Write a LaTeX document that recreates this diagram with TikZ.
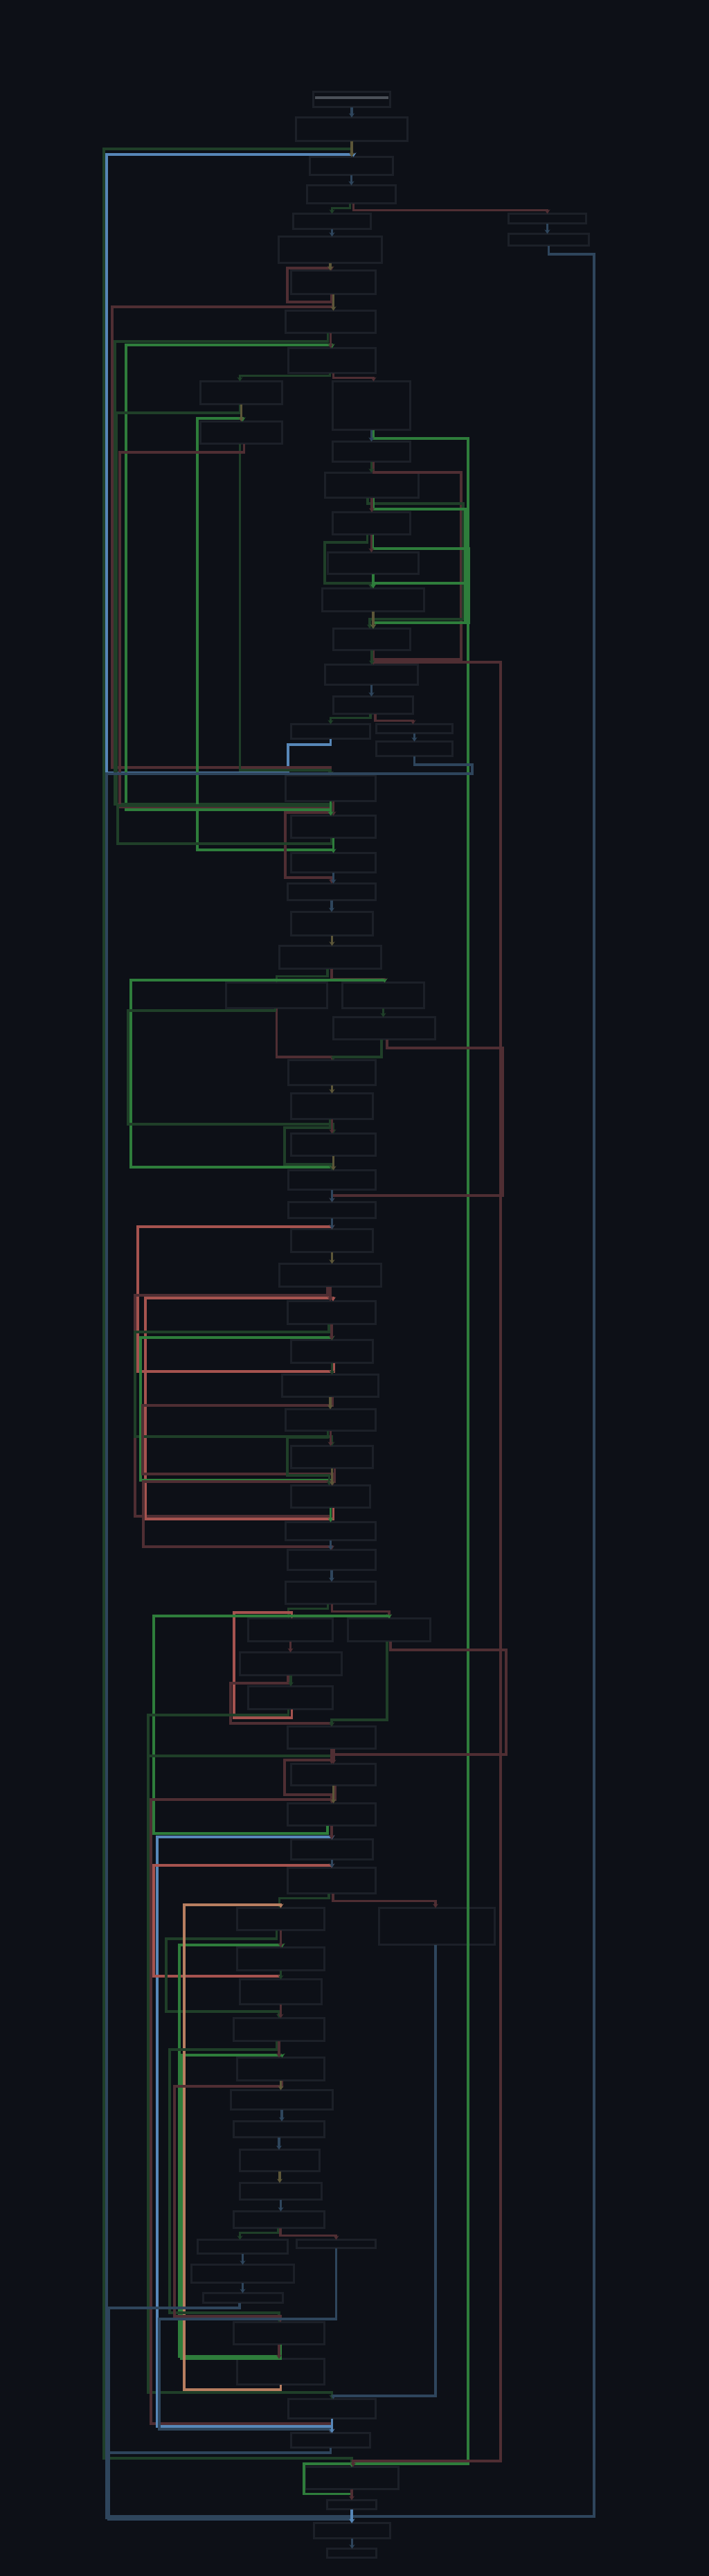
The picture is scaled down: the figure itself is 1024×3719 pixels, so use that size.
\documentclass[tikz,border=0pt]{standalone}
\usepackage{tikz}
\usetikzlibrary{arrows.meta,calc}
\definecolor{figBg}{HTML}{0D1017}
\definecolor{figBox}{HTML}{1C2028}
\definecolor{figBar}{HTML}{4B5058}
\definecolor{lnDBlue}{HTML}{2E455C}
\definecolor{lnBBlue}{HTML}{5787B8}
\definecolor{lnDGreen}{HTML}{1F3F28}
\definecolor{lnBGreen}{HTML}{2E7D3B}
\definecolor{lnDRed}{HTML}{4F2E33}
\definecolor{lnBRed}{HTML}{A5534F}
\definecolor{lnOrange}{HTML}{B77E60}
\definecolor{lnOlive}{HTML}{5C5638}

\begin{document}
\begin{tikzpicture}[
  x=0.1mm,y=-0.1mm,
  box/.style={draw=figBox,fill=figBg,line width=0.35mm,inner sep=0pt,outer sep=0pt},
  ln/.style={line width=0.35mm,-{Stealth[length=0.6mm,width=0.8mm]}},
  cDB/.style={ln,lnDBlue},
  cBB/.style={ln,lnBBlue},
  cDG/.style={ln,lnDGreen},
  cBG/.style={ln,lnBGreen},
  cDR/.style={ln,lnDRed},
  cBR/.style={ln,lnBRed},
  cOR/.style={ln,lnOrange},
  cOL/.style={ln,lnOlive}
]
\fill[figBg] (0,0) rectangle (1024,3719);

% ---- top part ----
\node[box,minimum width=11.1mm,minimum height=2.2mm] (a)   at (508,143.5)   {};
\fill[figBar] (455,139) rectangle (561,143);
\node[box,minimum width=16.1mm,minimum height=3.4mm] (b)   at (508,186.5)   {};
\node[box,minimum width=12.0mm,minimum height=2.6mm] (c)   at (507.5,239.5) {};
\node[box,minimum width=12.8mm,minimum height=2.6mm] (d)   at (507.5,280.5) {};
\node[box,minimum width=11.2mm,minimum height=2.2mm] (e)   at (479.5,319.5) {};
\node[box,minimum width=11.2mm,minimum height=1.4mm] (r1)  at (790.5,315.5) {};
\node[box,minimum width=11.6mm,minimum height=1.7mm] (r2)  at (792.5,346)   {};
\node[box,minimum width=14.9mm,minimum height=3.8mm] (f)   at (477,360.5)   {};
\node[box,minimum width=12.2mm,minimum height=3.4mm] (g)   at (481.5,407.5) {};
\node[box,minimum width=13.0mm,minimum height=3.2mm] (h)   at (477.5,464.5) {};
\node[box,minimum width=12.6mm,minimum height=3.6mm] (i)   at (479.5,520.5) {};
\node[box,minimum width=11.8mm,minimum height=3.3mm] (j1)  at (348.5,567)   {};
\node[box,minimum width=11.2mm,minimum height=7.0mm] (k)   at (536.5,585.5) {};
\node[box,minimum width=11.8mm,minimum height=3.2mm] (j2)  at (348.5,624.5) {};
\node[box,minimum width=11.2mm,minimum height=2.9mm] (l)   at (536.5,652)   {};
\node[box,minimum width=13.5mm,minimum height=3.6mm] (m)   at (537,700.5)   {};
\node[box,minimum width=11.2mm,minimum height=3.2mm] (n)   at (536.5,755.5) {};
\node[box,minimum width=13.1mm,minimum height=3.1mm] (o)   at (539,813)     {};
\node[box,minimum width=14.7mm,minimum height=3.3mm] (p)   at (539,866)     {};
\node[box,minimum width=11.1mm,minimum height=3.1mm] (q)   at (537,923)     {};
\node[box,minimum width=13.4mm,minimum height=2.9mm] (r)   at (536.5,974)   {};
\node[box,minimum width=11.5mm,minimum height=2.5mm] (s)   at (539,1018)    {};
\node[box,minimum width=11.4mm,minimum height=2.1mm] (t1)  at (477.5,1056)  {};
\node[box,minimum width=11.0mm,minimum height=1.3mm] (t2)  at (598.5,1052)  {};
\node[box,minimum width=11.0mm,minimum height=2.1mm] (t3)  at (598.5,1081)  {};
\node[box,minimum width=13.0mm,minimum height=3.7mm] (u)   at (477.5,1138)  {};
\node[box,minimum width=12.2mm,minimum height=3.2mm] (v)   at (481.5,1193.5) {};
\node[box,minimum width=12.2mm,minimum height=2.8mm] (w)   at (481.5,1245.5) {};
\node[box,minimum width=12.7mm,minimum height=2.4mm] (x)   at (479,1287.5)  {};
\node[box,minimum width=11.8mm,minimum height=3.4mm] (y)   at (479.5,1333.5) {};
\node[box,minimum width=14.7mm,minimum height=3.3mm] (z)   at (477,1382)    {};

% ---- middle part ----
\node[box,minimum width=14.6mm,minimum height=3.7mm] (aa1) at (399.5,1437)  {};
\node[box,minimum width=11.8mm,minimum height=3.7mm] (aa2) at (553.5,1437)  {};
\node[box,minimum width=14.7mm,minimum height=3.2mm] (ab)  at (555,1484.5)  {};
\node[box,minimum width=12.6mm,minimum height=3.6mm] (ac)  at (479.5,1548.5) {};
\node[box,minimum width=11.8mm,minimum height=3.7mm] (ad)  at (479.5,1597)  {};
\node[box,minimum width=12.2mm,minimum height=3.2mm] (ae)  at (481.5,1652.5) {};
\node[box,minimum width=12.6mm,minimum height=2.8mm] (af)  at (479.5,1703.5) {};
\node[box,minimum width=12.6mm,minimum height=2.3mm] (ag)  at (479.5,1747)  {};
\node[box,minimum width=11.8mm,minimum height=3.3mm] (ah)  at (479.5,1791)  {};
\node[box,minimum width=14.7mm,minimum height=3.3mm] (ai)  at (477,1841)    {};
\node[box,minimum width=12.7mm,minimum height=3.3mm] (aj)  at (479,1895)    {};
\node[box,minimum width=11.8mm,minimum height=3.3mm] (ak)  at (479.5,1951)  {};
\node[box,minimum width=13.9mm,minimum height=3.2mm] (al)  at (477,2000.5)  {};
\node[box,minimum width=13.0mm,minimum height=3.1mm] (am)  at (477.5,2050)  {};
\node[box,minimum width=11.8mm,minimum height=3.2mm] (an)  at (479.5,2103.5) {};
\node[box,minimum width=11.4mm,minimum height=3.2mm] (ao)  at (477.5,2160.5) {};
\node[box,minimum width=13.0mm,minimum height=2.6mm] (ap)  at (477.5,2210.5) {};
\node[box,minimum width=12.7mm,minimum height=2.9mm] (aq)  at (479,2252)    {};
\node[box,minimum width=13.0mm,minimum height=3.2mm] (ar)  at (477.5,2299.5) {};
\node[box,minimum width=12.2mm,minimum height=3.3mm] (as1) at (419.5,2353)  {};
\node[box,minimum width=11.9mm,minimum height=3.3mm] (as2) at (562,2353)    {};
\node[box,minimum width=14.7mm,minimum height=3.3mm] (at)  at (420,2402)    {};
\node[box,minimum width=12.2mm,minimum height=3.3mm] (au)  at (419.5,2451)  {};
\node[box,minimum width=12.7mm,minimum height=3.2mm] (av)  at (479,2508.5)  {};
\node[box,minimum width=12.2mm,minimum height=3.1mm] (aw)  at (481.5,2562)  {};
\node[box,minimum width=12.7mm,minimum height=3.2mm] (ax)  at (479,2619.5)  {};
\node[box,minimum width=11.8mm,minimum height=2.9mm] (ay)  at (479.5,2670)  {};
\node[box,minimum width=12.7mm,minimum height=3.7mm] (az)  at (479,2715)    {};

% ---- lower part ----
\node[box,minimum width=12.6mm,minimum height=3.2mm] (ba1) at (405.5,2770.5) {};
\node[box,minimum width=16.7mm,minimum height=5.3mm] (ba2) at (631,2781)    {};
\node[box,minimum width=12.6mm,minimum height=3.3mm] (bb)  at (405.5,2828)  {};
\node[box,minimum width=11.8mm,minimum height=3.6mm] (bc)  at (405.5,2875.5) {};
\node[box,minimum width=13.1mm,minimum height=3.3mm] (bd)  at (403,2930)    {};
\node[box,minimum width=12.6mm,minimum height=3.3mm] (be)  at (405.5,2987)  {};
\node[box,minimum width=14.7mm,minimum height=2.8mm] (bf)  at (407,3031.5)  {};
\node[box,minimum width=13.1mm,minimum height=2.3mm] (bg)  at (403,3074)    {};
\node[box,minimum width=11.5mm,minimum height=3.1mm] (bh)  at (404,3119)    {};
\node[box,minimum width=11.8mm,minimum height=2.4mm] (bi)  at (405.5,3163.5) {};
\node[box,minimum width=13.1mm,minimum height=2.4mm] (bj)  at (403,3204.5)  {};
\node[box,minimum width=13.0mm,minimum height=2.0mm] (bk1) at (350.5,3243.5) {};
\node[box,minimum width=11.4mm,minimum height=1.2mm] (bk2) at (485.5,3239.5) {};
\node[box,minimum width=14.8mm,minimum height=2.6mm] (bl)  at (350.5,3282.5) {};
\node[box,minimum width=11.5mm,minimum height=1.4mm] (bm)  at (351,3317.5)  {};
\node[box,minimum width=13.1mm,minimum height=3.2mm] (bn)  at (403,3368.5)  {};
\node[box,minimum width=12.6mm,minimum height=3.7mm] (bo)  at (405.5,3424)  {};
\node[box,minimum width=12.6mm,minimum height=2.8mm] (bp)  at (479.5,3477.5) {};
\node[box,minimum width=11.4mm,minimum height=2.1mm] (bq)  at (477.5,3523)  {};
\node[box,minimum width=13.5mm,minimum height=3.2mm] (br)  at (508,3577.5)  {};
\node[box,minimum width=7.1mm,minimum height=1.3mm]  (bs)  at (508,3616)    {};
\node[box,minimum width=11.0mm,minimum height=2.2mm] (bt)  at (508.5,3653.5) {};
\node[box,minimum width=7.1mm,minimum height=1.3mm]  (bu)  at (508,3686)    {};

% ---- long connectors ----
\draw[cDG] (b.south) |- (150,215) -- (150,3549) -| (br.north);
\draw[cBB] (t1.south) |- (416,1075) |- (154,1116) -- (154,223) -| ($(c.north)+(3,0)$);
\draw[cDG] ($(d.south)+(-2,0)$) -- ++(0,7) -| (e.north);
\draw[cDR] ($(d.south)+(3,0)$) -- ++(0,10) -| (r1.north);
\draw[cDB] (r2.south) |- (858,367) -- (858,3633) -| (bt.north);
\draw[cDR] ($(g.south)+(-3,0)$) |- (415,436) -- (415,387) -| ($(g.north)+(-3,0)$);
\draw[cDR] ($(g.south)+(-1,0)$) |- (162,443) -- (162,1108) -| (u.north);
\draw[cDG] ($(h.south)+(-4,0)$) |- (166,493) -- (166,1161) -| ($(v.north)+(-3,0)$);
\draw[cBG] (u.south) |- (182,1169) -- (182,498) -| (i.north);
\draw[cDG] ($(i.south)+(-3,0)$) -- ++(0,4) -| ($(j1.north)+(-2,0)$);
\draw[cDR] ($(i.south)+(2,0)$) -- ++(0,7) -| ($(k.north)+(3,0)$);
\draw[cDG] ($(j1.south)+(-2,0)$) |- (168,596) -- (168,1161) -| ($(v.north)+(-3,0)$);
\draw[cBG] (v.south) |- (285,1227) -- (285,604) -| ($(j2.north)+(2,0)$);
\draw[cDG] ($(j2.south)+(-2,0)$) -- (346.5,1112) -| (u.north);
\draw[cDR] ($(j2.south)+(4,0)$) |- (173,653) -- (173,1165) -| (v.north);
\draw[cBG] ($(k.south)+(3,0)$) |- (676,633) -- (676,3557) -| (br.north);
\draw[cBG] (br.south) -- ++(0,7) -| (439,3557) -| (br.north);
\draw[cDR] ($(l.south)+(3,0)$) |- (666,682) -- (666,952) -| ($(r.north)+(3,0)$);
\draw[cDG] ($(m.south)+(-6,0)$) |- (669,727) -- (669,894) -| ($(q.north)+(-3,0)$);
\draw[cBG] ($(m.south)+(2,0)$) |- (672,735) -- (672,899) -| ($(q.north)+(2,0)$);
\draw[cDG] ($(n.south)+(-6,0)$) |- (469,783) -- (469,842) -| ($(p.north)+(-3,0)$);
\draw[cBG] ($(n.south)+(2,0)$) |- (677,792) -- (677,899) -| ($(q.north)+(2,0)$);
\draw[cBG] (o.south) |- (674,842) -- (674,899) -| ($(q.north)+(2,0)$);
\draw[cDR] ($(q.south)+(2,0)$) |- (723,956) -- (723,3553) -| ($(br.north)+(2,0)$);
\draw[cDG] ($(s.south)+(-4,0)$) -- ++(0,6) -| (t1.north);
\draw[cDR] ($(s.south)+(3,0)$) -- ++(0,10) -| ($(t2.north)+(-2,0)$);
\draw[cDB] (t3.south) |- (682,1104) |- (154,1117) -- (154,3635) -| (bt.north);
\draw[cDR] ($(u.south)+(4,0)$) |- (412,1173) -- (412,1267) -| (x.north);
\draw[cDG] ($(v.south)+(-3,0)$) |- (170,1218) -- (170,1163) -| ($(v.north)+(-3,0)$);
\draw[cDG] ($(z.south)+(-4,0)$) -- ++(0,11) -| (aa1.north);
\draw[cDR] ($(z.south)+(2,0)$) -- ++(0,15) -| ($(aa2.north)+(2,0)$);
\draw[cBG] (ae.south) |- (189,1685) -- (189,1415) -| ($(aa2.north)+(2,0)$);
\draw[cDR] (aa1.south) -- (399.5,1526) -| (ac.north);
\draw[cDG] ($(aa1.south)+(-2,0)$) |- (185,1459) -- (185,1623) -| (ae.north);
\draw[cDG] ($(ab.south)+(-4,0)$) -- (551,1526) -| ($(ac.north)+(2,0)$);
\draw[cDR] ($(ab.south)+(4,0)$) |- (726,1513) -- (726,1726) -| (ag.north);
\draw[cDG] ($(ad.south)+(-3,0)$) |- (411,1628) -- (411,1681) -| (af.north);
\draw[cBR] ($(ak.south)+(3,0)$) |- (199,1980) -- (199,1771) -| (ah.north);
\draw[cDR] ($(ai.south)+(-4,0)$) |- (195,1870) -- (195,2189) -| (ap.north);
\draw[cBR] ($(ao.south)+(4,0)$) |- (210,2193) -- (210,1874) -| ($(aj.north)+(2,0)$);
\draw[cDG] ($(aj.south)+(-4,0)$) |- (195,1923) -- (195,2074) -| (an.north);
\draw[cBG] (an.south) |- (203,2137) -- (203,1931) -| (ak.north);
\draw[cDR] ($(al.south)+(3,0)$) |- (206,2029) -- (206,2128) -| ($(ao.north)+(3,0)$);
\draw[cDR] ($(an.south)+(4,0)$) |- (207,2139) -- (207,2233) -| (aq.north);
\draw[cDG] ($(am.south)+(-4,0)$) |- (415,2075) -- (415,2130) -| ($(ao.north)+(-2,0)$);
\draw[cDG] ($(ar.south)+(-4,0)$) -- ++(0,7) -| ($(as1.north)+(-3,0)$);
\draw[cDR] ($(ar.south)+(2,0)$) -- ++(0,11) -| (as2.north);
\draw[cBR] ($(au.south)+(2,0)$) |- (338,2480) -- (338,2328) -| ($(as1.north)+(2,0)$);
\draw[cBG] ($(ax.south)+(-6,0)$) |- (222,2647) -- (222,2333) -| (as2.north);
\draw[cDR] ($(at.south)+(-4,0)$) |- (333,2430) -- (333,2488) -| (av.north);
\draw[cDG] ($(au.south)+(-3,0)$) |- (214,2476) -- (214,3454) -| (bp.north);
\draw[cDG] ($(as2.south)+(-3,0)$) -- (559,2483) -| (av.north);
\draw[cDR] ($(as2.south)+(2,0)$) |- (731,2382) -- (731,2533) -| (aw.north);
\draw[cDG] (av.south) |- (214,2535) -- (214,3454) -| (bp.north);
\draw[cDR] ($(av.south)+(3,0)$) |- (411,2541) -- (411,2591) -| (ax.north);
\draw[cDR] ($(aw.south)+(3,0)$) |- (218,2598) -- (218,3499) -| (bq.north);
\draw[cBB] (bp.south) |- (227,3503) -- (227,2652) -| (ay.north);
\draw[cBR] (bb.south) |- (222,2853) -- (222,2693) -| (az.north);
\draw[cDG] ($(az.south)+(-4,0)$) -- ++(0,7) -| ($(ba1.north)+(-2,0)$);
\draw[cDR] ($(az.south)+(2,0)$) -- ++(0,11) -| ($(ba2.north)+(-2,0)$);
\draw[cDB] ($(ba2.south)+(-2,0)$) -- (629,3459) -| ($(bp.north)+(2,0)$);
\draw[cDG] ($(ba1.south)+(-6,0)$) |- (240,2799) -- (240,2904) -| (bd.north);
\draw[cBG] (bn.south) |- (259,3402) -- (259,2808) -| ($(bb.north)+(2,0)$);
\draw[cBG] ($(bn.south)+(2,0)$) |- (262,3405) -- (262,2967) -| ($(be.north)+(2,0)$);
\draw[cOR] (bo.south) |- (266,3450) -- (266,2750) -| (ba1.north);
\draw[cDG] ($(bd.south)+(-3,0)$) |- (245,2959) -- (245,3339) -| (bn.north);
\draw[cDR] ($(be.south)+(2,0)$) |- (252,3012) -- (252,3344) -| ($(bn.north)+(2,0)$);
\draw[cDG] ($(bj.south)+(-1,0)$) -- ++(0,7) -| ($(bk1.north)+(-4,0)$);
\draw[cDR] ($(bj.south)+(2,0)$) -- ++(0,11) -| (bk2.north);
\draw[cDB] (bk2.south) |- (230,3348) -- (230,3507) -| (bq.north);
\draw[cDB] ($(bm.south)+(-5,0)$) |- (157,3332) -- (157,3633) -| (bt.north);
\draw[cDB] (bq.south) |- (157,3541) -- (157,3637) -| (bt.north);

% ---- short connectors down the column ----
\foreach \s/\t/\col in {a/b/cDB, b/c/cOL, c/d/cDB, r1/r2/cDB, e/f/cDB, f/g/cOL, g/h/cOL, h/i/cDR,
  j1/j2/cOL, k/l/cDB, l/m/cDG, m/n/cDR, n/o/cDR, o/p/cBG, p/q/cOL, q/r/cDG, r/s/cDB, t2/t3/cDB,
  u/v/cBG, v/w/cBG, w/x/cDB, x/y/cDB, y/z/cOL, aa2/ab/cDG, ac/ad/cOL, ad/ae/cDR, ae/af/cOL,
  af/ag/cDB, ag/ah/cDB, ah/ai/cOL, ai/aj/cDR, aj/ak/cDR, ak/al/cDG, al/am/cOL, am/an/cDR,
  an/ao/cOL, ao/ap/cBG, ap/aq/cDB, aq/ar/cDB, as1/at/cDR, at/au/cDG, av/aw/cDR, aw/ax/cOL,
  ax/ay/cDR, ay/az/cDB, ba1/bb/cDR, bb/bc/cDG, bc/bd/cDR, bd/be/cDR, be/bf/cOL, bf/bg/cDB,
  bg/bh/cDB, bh/bi/cOL, bi/bj/cDB, bk1/bl/cDB, bl/bm/cDB, bn/bo/cDR, bp/bq/cBB, br/bs/cDR,
  bs/bt/cBB, bt/bu/cDB}
  \draw[\col] (\s.south) -- (\s.south |- \t.north);
\end{tikzpicture}
\end{document}
